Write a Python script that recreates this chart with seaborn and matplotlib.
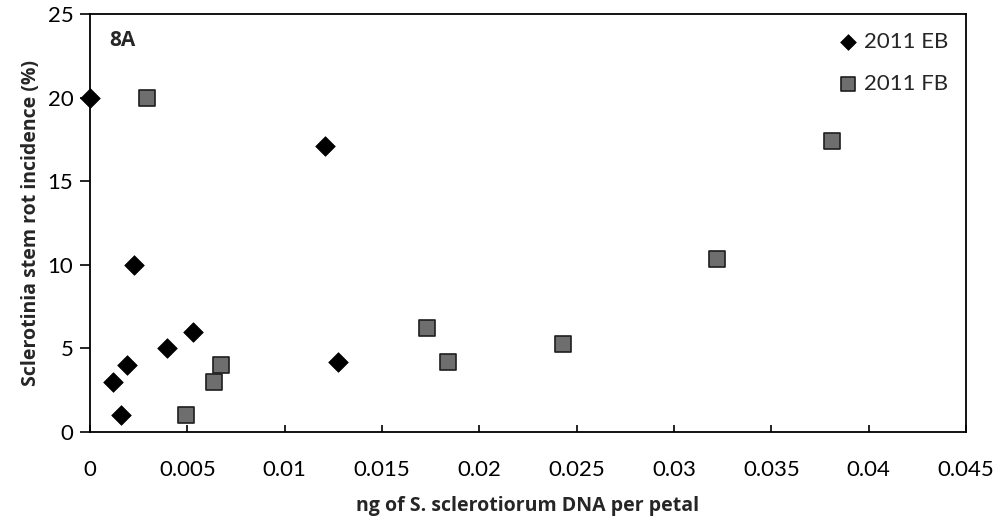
import matplotlib
matplotlib.use("Agg")
import matplotlib.pyplot as plt
import seaborn as sns
import pandas as pd

eb_x = [0.0, 0.00118, 0.00159, 0.0019, 0.00226, 0.00396, 0.00529, 0.01207, 0.01274]
eb_y = [20, 3, 1, 4, 10, 5, 6, 17.1, 4.2]
fb_x = [0.00293, 0.00493, 0.00637, 0.00673, 0.0173, 0.0184, 0.0243, 0.0322, 0.0381]
fb_y = [20, 1, 3, 4, 6.2, 4.2, 5.25, 10.35, 17.4]
x_ticks = [0, 0.005, 0.01, 0.015, 0.02, 0.025, 0.03, 0.035, 0.04, 0.045]
x_labels = ["0", "0.005", "0.01", "0.015", "0.02", "0.025", "0.03", "0.035", "0.04", "0.045"]
y_ticks = [0, 5, 10, 15, 20, 25]

sns.set_style("white")
plt.rcParams['font.family'] = ['Lato', 'DejaVu Sans']

fig = plt.figure(figsize=(10.02, 5.21), dpi=100)
ax = fig.add_axes([0.0898, 0.1708, 0.8742, 0.802])

eb = pd.DataFrame({"x": eb_x, "y": eb_y})
fb = pd.DataFrame({"x": fb_x, "y": fb_y})
sns.scatterplot(data=eb, x="x", y="y", ax=ax, marker="D", s=100, color="black",
                edgecolor="black", linewidth=0.5, label="2011 EB", zorder=3, clip_on=False)
sns.scatterplot(data=fb, x="x", y="y", ax=ax, marker="s", s=140, color="#6e6e6e",
                edgecolor="#1e1e1e", linewidth=1.2, label="2011 FB", zorder=3, clip_on=False)

ax.set_xlim(0, 0.045)
ax.set_ylim(0, 25)
ax.set_xticks(x_ticks)
ax.set_xticklabels(x_labels)
ax.set_yticks(y_ticks)
ax.tick_params(axis="both", labelsize=16, colors="black", width=1.2, direction="out",
               left=True, bottom=True)
ax.tick_params(axis="y", length=7, pad=5)
ax.tick_params(axis="x", direction="in", length=5, pad=20)
for s in ax.spines.values():
    s.set_color("black")
    s.set_linewidth(1.3)

ax.set_xlabel("ng of S. sclerotiorum DNA per petal", fontsize=14, fontweight="bold",
              family=["Open Sans", "DejaVu Sans"], labelpad=12)
ax.set_ylabel("Sclerotinia stem rot incidence (%)", fontsize=14, fontweight="bold",
              family=["Open Sans", "DejaVu Sans"], labelpad=5)
ax.text(0.001, 23.4, "8A", fontsize=15, fontweight="bold", va="center", ha="left",
        family=["Open Sans", "DejaVu Sans"])

leg = ax.legend(loc="upper right", frameon=False, fontsize=16, handletextpad=-0.3,
                labelspacing=1.0, borderaxespad=0.4, markerscale=0.8)

fig.savefig("out.png", dpi=100)
